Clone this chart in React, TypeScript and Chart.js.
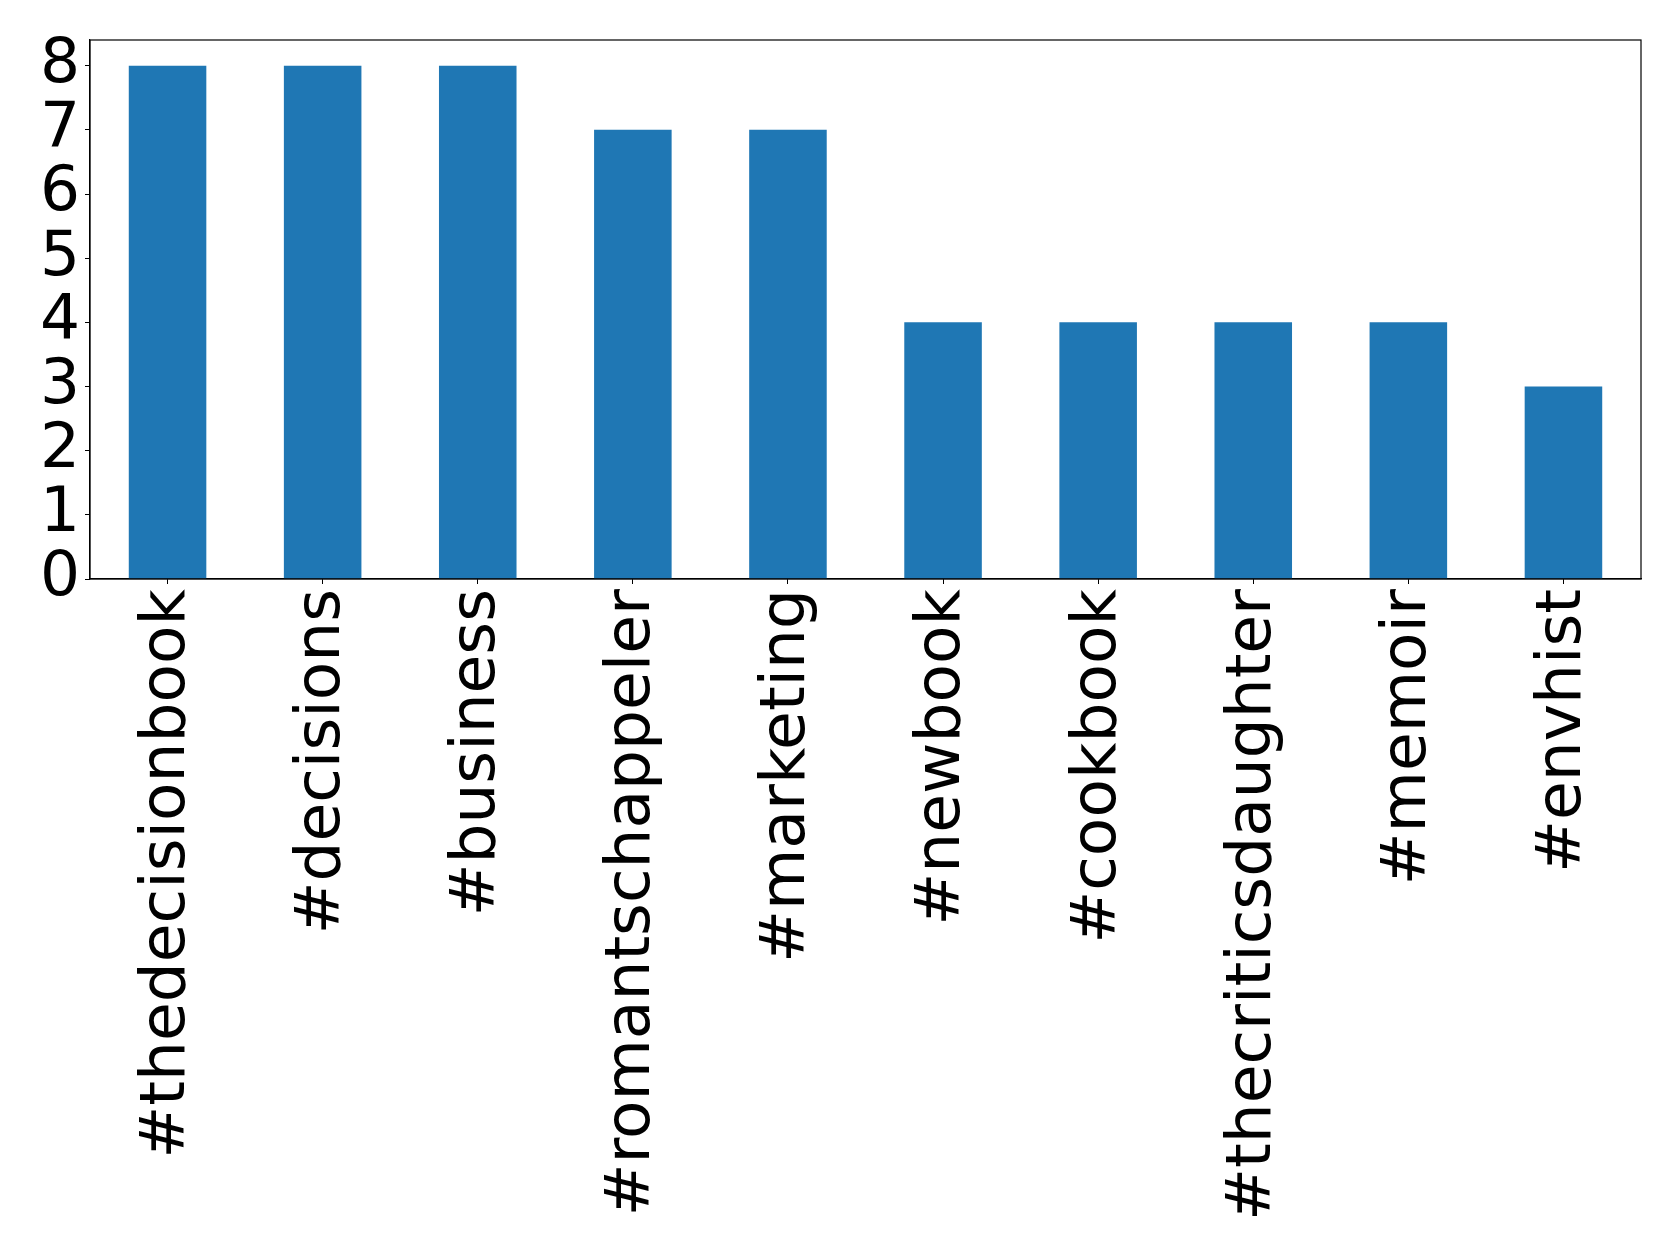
import React, { useEffect, useRef } from "react";
import { Chart, registerables } from "chart.js";

Chart.register(...registerables);

const categories = [
  "#thedecisionbook",
  "#decisions",
  "#business",
  "#romantschappeler",
  "#marketing",
  "#newbook",
  "#cookbook",
  "#thecriticsdaughter",
  "#memoir",
  "#envhist",
];
const counts = [8, 8, 8, 7, 7, 4, 4, 4, 4, 3];
const yTickValues = [0, 1, 2, 3, 4, 5, 6, 7, 8];

const W = 1679;
const H = 1255;

const framePlugin = {
  id: "frame",
  afterDraw(chart: any) {
    const { ctx, chartArea } = chart;
    ctx.save();
    ctx.strokeStyle = "#000";
    ctx.lineWidth = 1.2;
    ctx.strokeRect(chartArea.left, chartArea.top, chartArea.right - chartArea.left, chartArea.bottom - chartArea.top);
    ctx.restore();
  },
};

export default function App() {
  const ref = useRef<HTMLCanvasElement>(null);
  useEffect(() => {
    if (!ref.current) return;
    const font = { family: "'DejaVu Sans', sans-serif", size: 63 };
    const chart = new Chart(ref.current, {
      type: "bar",
      data: {
        labels: categories,
        datasets: [
          {
            data: counts,
            backgroundColor: "#1f77b4",
            borderWidth: 0,
            barPercentage: 0.5,
            categoryPercentage: 1,
          },
        ],
      },
      plugins: [framePlugin],
      options: {
        responsive: false,
        animation: false,
        devicePixelRatio: 1,
        layout: { padding: { top: 40, right: 38, left: 0, bottom: 0 } },
        plugins: { legend: { display: false }, tooltip: { enabled: false } },
        scales: {
          x: {
            offset: true,
            grid: { display: true, drawOnChartArea: false, drawTicks: true, tickLength: 5, color: "#000", offset: false },
            border: { display: true, color: "#000", width: 1.2 },
            ticks: { font, color: "#000", maxRotation: 90, minRotation: 90, padding: 5, autoSkip: false },
            afterFit: (scale: any) => {
              scale.height = H - 579;
              scale.paddingLeft = 0;
              scale.paddingRight = 0;
            },
          },
          y: {
            min: 0,
            max: 8.4,
            grid: { display: true, drawOnChartArea: false, drawTicks: true, tickLength: 5, color: "#000" },
            border: { display: true, color: "#000", width: 1.2 },
            ticks: { font, color: "#000", padding: 5, autoSkip: false },
            afterBuildTicks: (scale: any) => {
              scale.ticks = yTickValues.map((v) => ({ value: v }));
            },
            afterFit: (scale: any) => {
              scale.width = 90;
              scale.paddingTop = 0;
              scale.paddingBottom = 0;
            },
          },
        },
      },
    });
    return () => chart.destroy();
  }, []);
  return (
    <div style={{ position: "fixed", left: 0, top: 0, width: W, height: H, background: "#fff" }}>
      <canvas ref={ref} width={W} height={H} style={{ width: W, height: H, display: "block" }} />
    </div>
  );
}
